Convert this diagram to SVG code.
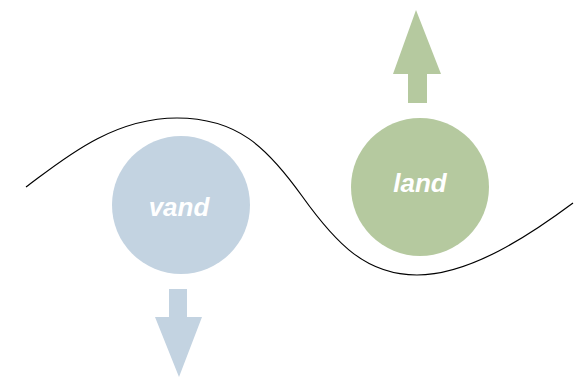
<svg xmlns="http://www.w3.org/2000/svg" width="575" height="378" viewBox="0 0 575 378">
<style>
.lbl{font-family:"Liberation Sans",Arial,sans-serif;font-size:26px;font-weight:bold;font-style:italic;fill:#ffffff;text-anchor:middle}
.water{fill:#c3d3e1}
.land{fill:#b5c99f}
</style>
<rect width="575" height="378" fill="#ffffff"/>
<g id="connectors">
<path d="M26,187 C60,162 110,118 177,118 C237,118 267,147 302,196 C337,245 367,275 417,275 C470,275 530,235 573,203" fill="none" stroke="#000000" stroke-width="1.2"/>
</g>
<g id="vand">
<circle class="water" cx="181" cy="205" r="69"/>
<text class="lbl" x="179" y="216">vand</text>
</g>
<g id="land">
<circle class="land" cx="420" cy="187" r="69"/>
<text class="lbl" x="420" y="192">land</text>
</g>
<g id="arrow-up">
<polygon class="land" points="416,10 441,74 427,74 427,103 408,103 408,74 393,74"/>
</g>
<g id="arrow-down">
<polygon class="water" points="169,289 187,289 187,317 202,317 179,377 155,317 169,317"/>
</g>
</svg>
